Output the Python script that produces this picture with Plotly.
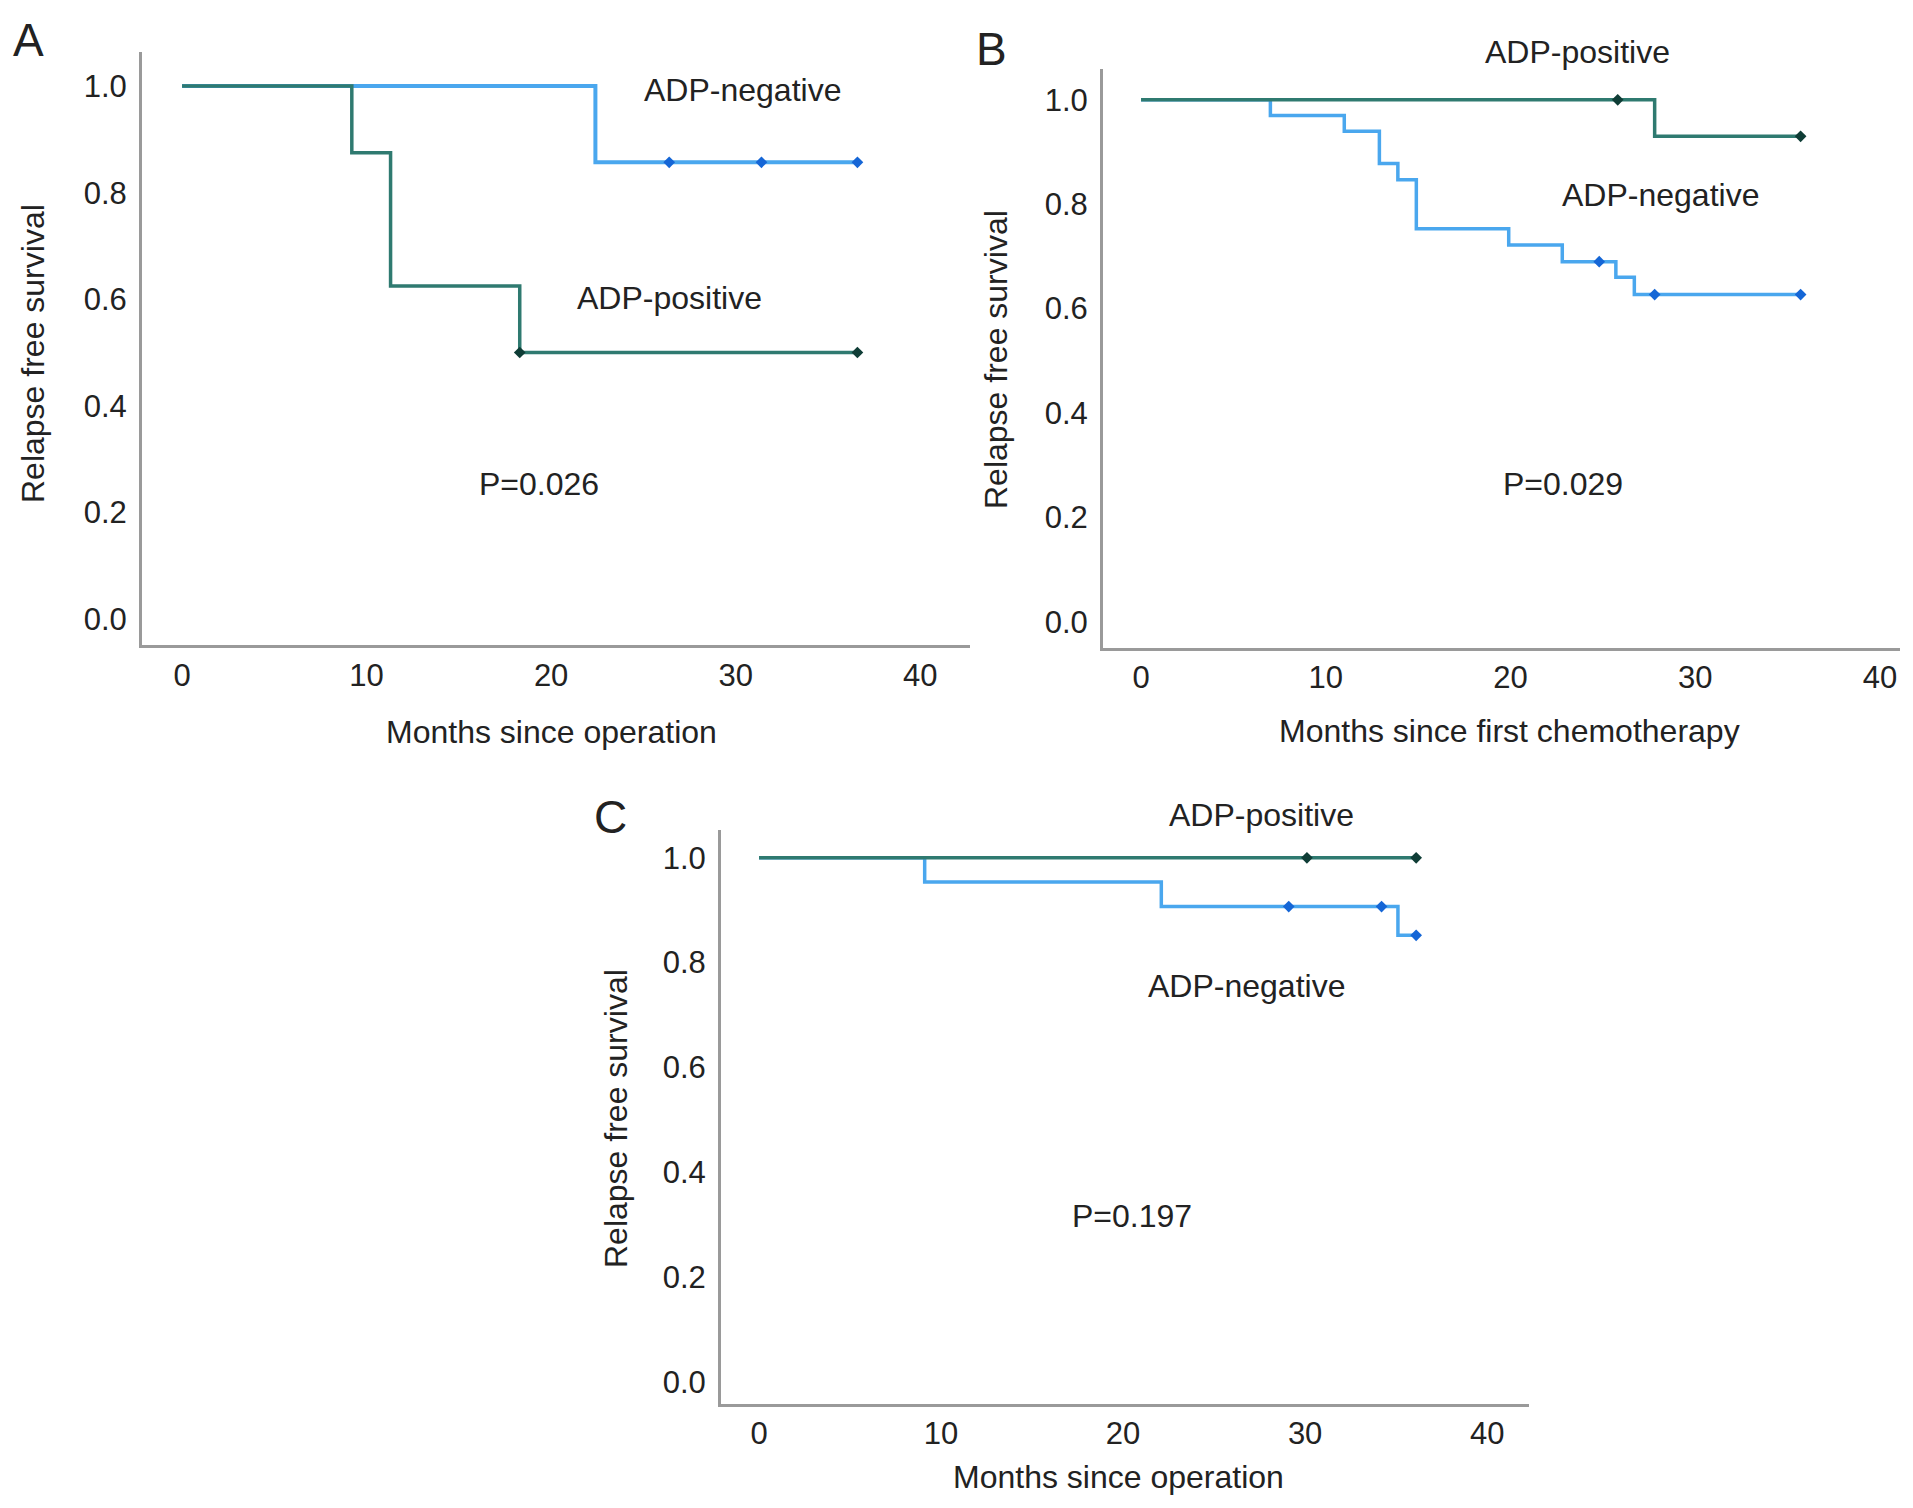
import plotly.graph_objects as go

# --- Datos (Kaplan-Meier, supervivencia libre de recaida) ---

# Panel A: meses desde la operacion
a_neg_tiempos = [0, 22.4]
a_neg_superv = [1.0, 0.857]
a_neg_fin = 36.6
a_neg_censuras = [26.4, 31.4, 36.6]

a_pos_tiempos = [0, 9.2, 11.3, 18.3]
a_pos_superv = [1.0, 0.875, 0.625, 0.5]
a_pos_fin = 36.6
a_pos_censuras = [18.3, 36.6]

# Panel B: meses desde la primera quimioterapia
b_neg_tiempos = [0, 7.0, 11.0, 12.9, 13.9, 14.9, 19.9, 22.8, 25.7, 26.7]
b_neg_superv = [1.0, 0.97, 0.94, 0.878, 0.847, 0.753, 0.722, 0.69, 0.66, 0.627]
b_neg_fin = 35.7
b_neg_censuras = [24.8, 27.8, 35.7]

b_pos_tiempos = [0, 27.8]
b_pos_superv = [1.0, 0.93]
b_pos_fin = 35.7
b_pos_censuras = [25.8, 35.7]

# Panel C: meses desde la operacion
c_neg_tiempos = [0, 9.1, 22.1, 35.1]
c_neg_superv = [1.0, 0.954, 0.907, 0.852]
c_neg_fin = 36.1
c_neg_censuras = [29.1, 34.2, 36.1]

c_pos_tiempos = [0]
c_pos_superv = [1.0]
c_pos_fin = 36.1
c_pos_censuras = [30.1, 36.1]

ticks_x = [0, 10, 20, 30, 40]
ticks_y = [0.0, 0.2, 0.4, 0.6, 0.8, 1.0]

W, H = 1913, 1508
COLOR_NEG = '#4aa7ee'
COLOR_NEG_MARCA = '#1566d6'
COLOR_POS = '#2f7a70'
COLOR_POS_MARCA = '#0f3d36'
FUENTE = 'Liberation Sans, Arial, sans-serif'


def superv_en(t, tiempos, superv):
    # valor de la curva escalonada en el tiempo t
    valor = superv[0]
    for ti, si in zip(tiempos, superv):
        if ti <= t:
            valor = si
    return valor


def agregar_curva(fig, tiempos, superv, fin, censuras, color, color_marca, ancho, eje):
    xs = list(tiempos) + [fin]
    ys = list(superv) + [superv[-1]]
    fig.add_trace(go.Scatter(x=xs, y=ys, mode='lines', line=dict(color=color, width=ancho, shape='hv'),
                             xaxis='x' + eje, yaxis='y' + eje, showlegend=False, hoverinfo='skip'))
    cy = [superv_en(t, tiempos, superv) for t in censuras]
    fig.add_trace(go.Scatter(x=censuras, y=cy, mode='markers',
                             marker=dict(symbol='diamond', size=9, color=color_marca),
                             xaxis='x' + eje, yaxis='y' + eje, showlegend=False))


def px(x, y):
    return x / W, 1 - y / H


def texto(fig, x, y, t, size=32, angle=0):
    xp, yp = px(x, y)
    fig.add_annotation(x=xp, y=yp, xref='paper', yref='paper', text=t, showarrow=False,
                       font=dict(size=size, color='#222222', family=FUENTE), textangle=angle,
                       xanchor='center', yanchor='middle')


fig = go.Figure()

# orden: primero la curva clara, luego la oscura encima
agregar_curva(fig, a_neg_tiempos, a_neg_superv, a_neg_fin, a_neg_censuras, COLOR_NEG, COLOR_NEG_MARCA, 4, '')
agregar_curva(fig, a_pos_tiempos, a_pos_superv, a_pos_fin, a_pos_censuras, COLOR_POS, COLOR_POS_MARCA, 3.5, '')
agregar_curva(fig, b_neg_tiempos, b_neg_superv, b_neg_fin, b_neg_censuras, COLOR_NEG, COLOR_NEG_MARCA, 3.5, '2')
agregar_curva(fig, b_pos_tiempos, b_pos_superv, b_pos_fin, b_pos_censuras, COLOR_POS, COLOR_POS_MARCA, 3.5, '2')
agregar_curva(fig, c_neg_tiempos, c_neg_superv, c_neg_fin, c_neg_censuras, COLOR_NEG, COLOR_NEG_MARCA, 3.5, '3')
agregar_curva(fig, c_pos_tiempos, c_pos_superv, c_pos_fin, c_pos_censuras, COLOR_POS, COLOR_POS_MARCA, 3.5, '3')

eje_base = dict(showline=True, linecolor='#9a9a9a', linewidth=3, showgrid=False, zeroline=False,
                ticks='', tickfont=dict(size=31, color='#222222', family=FUENTE), fixedrange=True)


def eje_x(dominio, rango, ancla, separacion):
    d = dict(eje_base)
    d.update(domain=dominio, range=rango, anchor=ancla, tickvals=ticks_x,
             ticktext=[str(v) for v in ticks_x], ticklabelstandoff=separacion)
    return d


def eje_y(dominio, rango, ancla):
    d = dict(eje_base)
    d.update(domain=dominio, range=rango, anchor=ancla, tickvals=ticks_y,
             ticktext=['%.1f' % v for v in ticks_y], ticklabelstandoff=6)
    return d


fig.update_layout(
    width=W, height=H, margin=dict(l=0, r=0, t=0, b=0),
    plot_bgcolor='white', paper_bgcolor='white',
    xaxis=eje_x([142 / W, 970 / W], [-2.17, 42.7], 'y', 1),
    yaxis=eje_y([1 - 645 / H, 1 - 52 / H], [-0.049, 1.064], 'x'),
    xaxis2=eje_x([1103 / W, 1900 / W], [-2.06, 41.08], 'y2', 0),
    yaxis2=eje_y([1 - 648 / H, 1 - 69 / H], [-0.050, 1.059], 'x2'),
    xaxis3=eje_x([721 / W, 1529 / W], [-2.09, 42.3], 'y3', 0),
    yaxis3=eje_y([1 - 1404 / H, 1 - 830 / H], [-0.042, 1.053], 'x3'),
)

# Panel A
texto(fig, 28, 40, 'A', size=46)
texto(fig, 742, 90, 'ADP-negative')
texto(fig, 669, 298, 'ADP-positive')
texto(fig, 539, 484, 'P=0.026')
texto(fig, 551, 732, 'Months since operation')
texto(fig, 33, 354, 'Relapse free survival', angle=-90)

# Panel B
texto(fig, 991, 49, 'B', size=46)
texto(fig, 1577, 52, 'ADP-positive')
texto(fig, 1660, 195, 'ADP-negative')
texto(fig, 1563, 484, 'P=0.029')
texto(fig, 1509, 731, 'Months since first chemotherapy')
texto(fig, 996, 360, 'Relapse free survival', angle=-90)

# Panel C
texto(fig, 610, 817, 'C', size=46)
texto(fig, 1261, 815, 'ADP-positive')
texto(fig, 1246, 986, 'ADP-negative')
texto(fig, 1132, 1216, 'P=0.197')
texto(fig, 1118, 1477, 'Months since operation')
texto(fig, 616, 1119, 'Relapse free survival', angle=-90)

fig.write_html("out.html", config={'displayModeBar': False},
               post_script="document.body.style.margin='0';")
